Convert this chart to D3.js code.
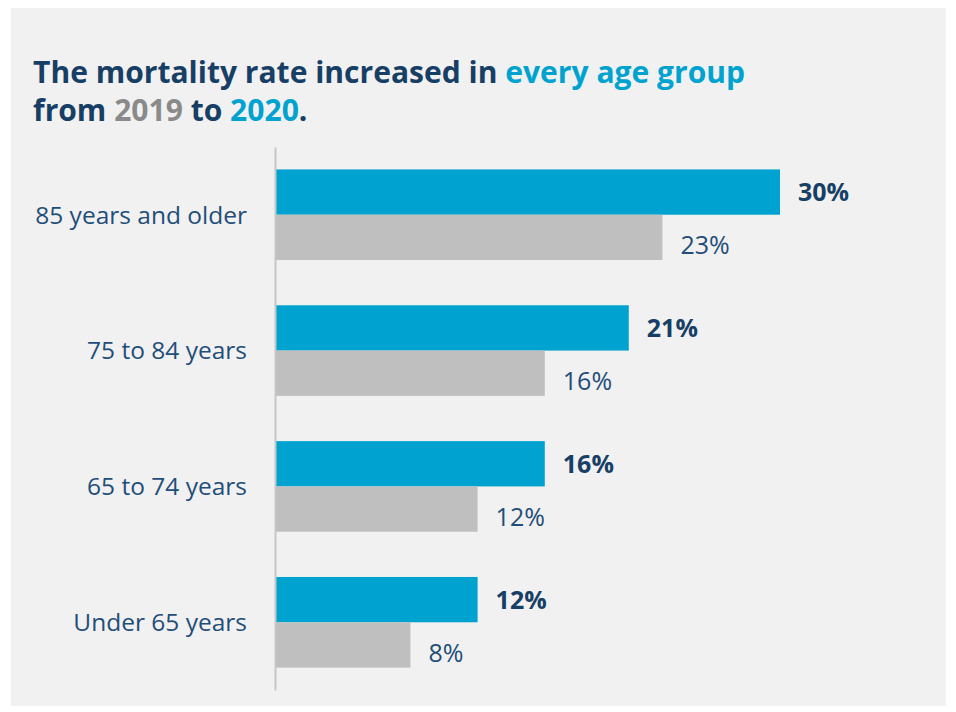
<!DOCTYPE html>
<html>
<head>
<meta charset="utf-8">
<script src="https://cdn.jsdelivr.net/npm/d3@7"></script>
<style>
  html, body { margin: 0; padding: 0; background: #ffffff; }
  svg { display: block; }
</style>
</head>
<body>
<svg id="chart" width="956" height="712"></svg>
<script>
// Mortality rate by age group, 2019 vs 2020
const categories = ["85 years and older", "75 to 84 years", "65 to 74 years", "Under 65 years"];
const values2020 = [30, 21, 16, 12];
const values2019 = [23, 16, 12, 8];
const seriesNames = ["2020", "2019"];

const W = 956, H = 712;
const svg = d3.select("#chart");
const FONT = "'Open Sans', 'Segoe UI', sans-serif";
const navy = "#173f66";
const teal = "#00a3cf";
const grey = "#bfbfbf";

// panel background
svg.append("rect")
  .attr("x", 11).attr("y", 8)
  .attr("width", 935).attr("height", 698)
  .attr("fill", "#f1f1f1");

// title
const title = svg.append("g").attr("font-family", FONT).attr("font-weight", 700);
const line1 = title.append("text").attr("x", 33).attr("y", 83).attr("font-size", 30).attr("fill", navy);
line1.append("tspan").text("The mortality rate increased in ");
line1.append("tspan").attr("fill", teal).text("every age group");
const line2 = title.append("text").attr("x", 33).attr("y", 121).attr("font-size", 30).attr("fill", navy);
line2.append("tspan").text("from ");
line2.append("tspan").attr("fill", "#8a8a8a").text("2019");
line2.append("tspan").text(" to ");
line2.append("tspan").attr("fill", teal).text("2020");
line2.append("tspan").text(".");

// condense title to its set width
const w1 = line1.node().getComputedTextLength();
const k = 712 / w1;
line1.attr("textLength", 712).attr("lengthAdjust", "spacingAndGlyphs");
const w2 = line2.node().getComputedTextLength();
line2.attr("textLength", w2 * k).attr("lengthAdjust", "spacingAndGlyphs");

// scales
const x0 = 276;
const x = d3.scaleLinear().domain([0, 30]).range([x0, 780]);
const y = d3.scaleBand().domain(categories).range([147, 690]).paddingInner(0.333).paddingOuter(0.165);
const ySub = d3.scaleBand().domain(seriesNames).range([0, y.bandwidth()]);

const rows = categories.map((c, i) => ({ cat: c, v: [values2020[i], values2019[i]] }));

const g = svg.append("g");
const groups = g.selectAll("g.row").data(rows).join("g")
  .attr("class", "row")
  .attr("transform", d => `translate(0,${y(d.cat)})`);

groups.selectAll("rect").data(d => d.v.map((v, j) => ({ v, s: seriesNames[j] })))
  .join("rect")
  .attr("x", x0)
  .attr("y", d => ySub(d.s))
  .attr("width", d => x(d.v) - x0)
  .attr("height", ySub.bandwidth())
  .attr("fill", d => d.s === "2020" ? teal : grey);

// value labels
groups.selectAll("text.val").data(d => d.v.map((v, j) => ({ v, s: seriesNames[j] })))
  .join("text")
  .attr("class", "val")
  .attr("x", d => x(d.v) + 18)
  .attr("y", d => ySub(d.s) + ySub.bandwidth() / 2 + (d.s === "2020" ? 0 : 8))
  .attr("dy", "0.36em")
  .attr("font-family", FONT)
  .attr("font-size", 25)
  .attr("font-weight", d => d.s === "2020" ? 700 : 400)
  .attr("fill", d => d.s === "2020" ? "#173f66" : "#1f4e79")
  .text(d => d.v + "%");

// category axis
const axis = d3.axisLeft(y).tickSize(0).tickPadding(28);
const ax = svg.append("g").attr("transform", `translate(${x0 - 1},0)`).call(axis);
ax.select(".domain").attr("stroke", "#c6c6c6").attr("stroke-width", 2);
ax.selectAll("text")
  .attr("font-family", FONT)
  .attr("font-size", 24.5)
  .attr("fill", "#1f4e79")
  .attr("dy", "0.36em");
</script>
</body>
</html>
